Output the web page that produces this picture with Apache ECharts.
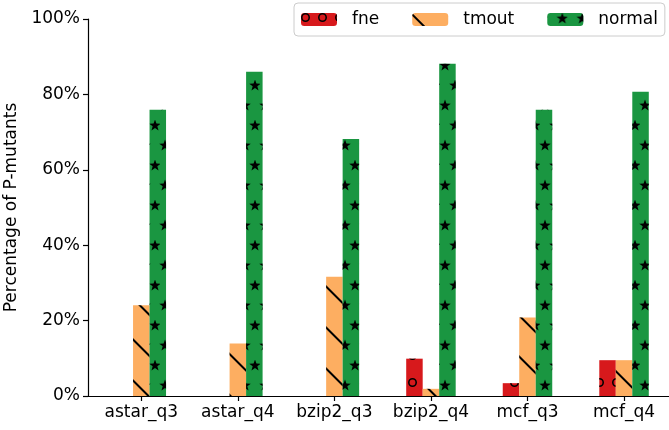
<!DOCTYPE html>
<html>
<head>
<meta charset="utf-8">
<script src="https://cdn.jsdelivr.net/npm/echarts@6/dist/echarts.min.js"></script>
<style>
html,body{margin:0;padding:0;background:#fff;}
#chart{width:669px;height:430px;}
</style>
</head>
<body>
<div id="chart"></div>
<script>
const categories = ['astar_q3', 'astar_q4', 'bzip2_q3', 'bzip2_q4', 'mcf_q3', 'mcf_q4'];
const seriesNames = ['fne', 'tmout', 'normal'];
const fneValues = [0, 0, 0, 9.9, 3.4, 9.5];
const tmoutValues = [24.1, 13.9, 31.6, 1.9, 20.8, 9.5];
const normalValues = [75.9, 86.0, 68.2, 88.1, 75.9, 80.7];
const yTicks = [0, 20, 40, 60, 80, 100];

const FONT = 'DejaVu Sans';
const FS = 17;
const idx = categories.map((c, i) => i);
const toPairs = arr => arr.map((v, i) => [i, v]);

const starPath = 'path://M10,0 L12.35,6.76 L19.51,6.91 L13.8,11.24 L15.88,18.09 L10,14 L4.12,18.09 L6.2,11.24 L0.49,6.91 L7.65,6.76 Z';
const ringPath = 'path://M10,0 A10,10 0 1,1 10,20 A10,10 0 1,1 10,0 Z M10,3.5 A6.5,6.5 0 1,0 10,16.5 A6.5,6.5 0 1,0 10,3.5 Z';

const decals = {
  fne: { symbol: ringPath, symbolSize: 1, color: '#000', dashArrayX: [9, 8], dashArrayY: [9, 18], rotation: 0 },
  tmout: { symbol: 'rect', symbolSize: 1, color: '#000', dashArrayX: [1, 0], dashArrayY: [1.6, 26.7], rotation: Math.PI / 4 },
  normal: { symbol: starPath, symbolSize: 1.15, color: '#000', dashArrayX: [[10, 10], [0, 10, 10, 0]], dashArrayY: [10, 9.5], rotation: 0 }
};
const colors = { fne: '#d7191c', tmout: '#fdae61', normal: '#1a9641' };
const values = { fne: fneValues, tmout: tmoutValues, normal: normalValues };

const chart = echarts.init(document.getElementById('chart'), null, { renderer: 'canvas' });
chart.setOption({
  animation: false,
  backgroundColor: '#fff',
  textStyle: { fontFamily: FONT },
  grid: { left: 88, top: 19, width: 587.6, height: 377, containLabel: false, outerBoundsMode: 'none' },
  legend: {
    left: 294, top: 3,
    data: seriesNames,
    itemWidth: 36, itemHeight: 13, itemGap: 33,
    padding: [8, 7, 8, 7],
    backgroundColor: '#fff',
    borderColor: '#cccccc', borderWidth: 1, borderRadius: 4,
    textStyle: { fontFamily: FONT, fontSize: FS, color: '#000', padding: [0, 0, 0, 10] }
  },
  xAxis: {
    type: 'value',
    min: -0.552, max: 5.534,
    axisLine: { show: true, onZero: false, lineStyle: { color: '#000', width: 1.2 } },
    axisTick: { show: true, customValues: idx, length: 5, lineStyle: { color: '#000', width: 1.2 } },
    axisLabel: { customValues: idx, color: '#000', fontFamily: FONT, fontSize: FS, margin: 8,
      formatter: v => categories[Math.round(v)] },
    splitLine: { show: false }
  },
  yAxis: {
    type: 'value', min: 0, max: 100, interval: 20,
    name: 'Percentage of P-mutants', nameLocation: 'middle', nameGap: 62,
    nameTextStyle: { fontFamily: FONT, fontSize: FS, color: '#000' },
    axisLine: { show: true, onZero: false, lineStyle: { color: '#000', width: 1.2 } },
    axisTick: { show: true, length: 5, lineStyle: { color: '#000', width: 1.2 } },
    axisLabel: { color: '#000', fontFamily: FONT, fontSize: FS, margin: 8, formatter: '{value}%' },
    splitLine: { show: false }
  },
  series: seriesNames.map(n => ({
    name: n, type: 'bar',
    data: toPairs(values[n]),
    barWidth: 16.5, barGap: '0%',
    itemStyle: { color: colors[n], decal: decals[n] },
    emphasis: { disabled: true }
  }))
});
</script>
</body>
</html>
